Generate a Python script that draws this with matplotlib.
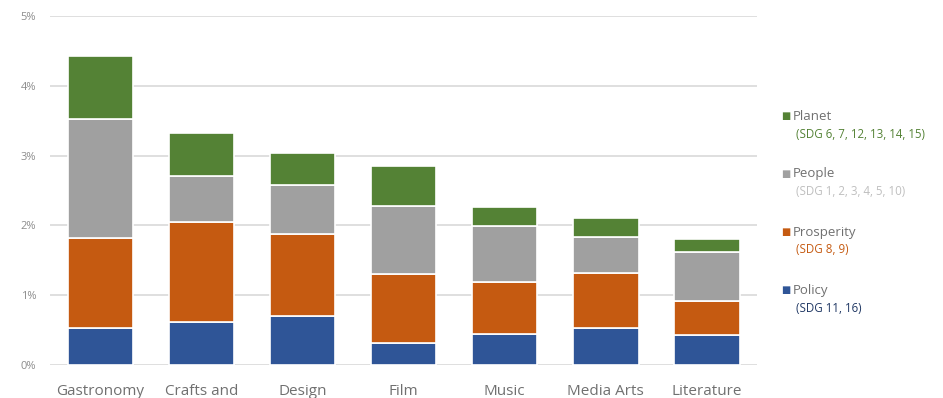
import numpy as np
import matplotlib.pyplot as plt
from matplotlib.ticker import PercentFormatter

plt.rcParams['font.family'] = ['Open Sans', 'DejaVu Sans']

# share of total, by creative field and SDG pillar
fields = ["Gastronomy", "Crafts and", "Design", "Film", "Music", "Media Arts", "Literature"]
policy = [0.535, 0.62, 0.70, 0.32, 0.45, 0.53, 0.43]
prosperity = [1.285, 1.43, 1.18, 0.98, 0.74, 0.79, 0.49]
people = [1.70, 0.65, 0.70, 0.98, 0.80, 0.52, 0.70]
planet = [0.90, 0.63, 0.45, 0.57, 0.27, 0.26, 0.19]

pillars = ["Policy", "Prosperity", "People", "Planet"]
sdg_notes = ["(SDG 11, 16)", "(SDG 8, 9)", "(SDG 1, 2, 3, 4, 5, 10)", "(SDG 6, 7, 12, 13, 14, 15)"]
colors = ["#2F5597", "#C55A11", "#A0A0A0", "#548235"]
note_colors = ["#203864", "#C55A11", "#BFBFBF", "#548235"]

fig = plt.figure(figsize=(9.43, 3.98), dpi=100)
ax = fig.add_axes([0.053, 0.083, 0.750, 0.877])

x = np.arange(len(fields))
bottom = np.zeros(len(fields))
for vals, c in zip([policy, prosperity, people, planet], colors):
    v = np.array(vals) / 100
    ax.bar(x, v, 0.65, bottom=bottom, color=c, edgecolor="white", linewidth=1.2, zorder=3)
    bottom += v

ax.set_xlim(-0.5, 6.5)
ax.set_ylim(0, 0.05)
ax.yaxis.set_major_formatter(PercentFormatter(1.0, decimals=0))
ax.set_yticks(np.arange(0, 0.051, 0.01))
ax.grid(axis="y", color="#D9D9D9", linewidth=1.2, zorder=0)
for s in ax.spines.values():
    s.set_visible(False)
ax.tick_params(length=0)
ax.tick_params(axis="y", labelsize=8, labelcolor="#8C8C8C", pad=10)
ax.set_xticks(x)
ax.set_xticklabels(fields, fontsize=11, color="#707070")
ax.tick_params(axis="x", pad=14)

# legend with SDG notes, top to bottom
ys = [0.708, 0.563, 0.417, 0.271]
for i, yy in zip(range(3, -1, -1), ys):
    fig.text(0.833, yy, "\u25A0", color=colors[i], fontsize=7, va="center", ha="center",
             family=["DejaVu Sans"])
    fig.text(0.841, yy, pillars[i], color="#707070", fontsize=9.5, va="center")
    fig.text(0.844, yy - 0.045, sdg_notes[i], color=note_colors[i], fontsize=8.3, va="center")

fig.savefig("out.png", dpi=100)
